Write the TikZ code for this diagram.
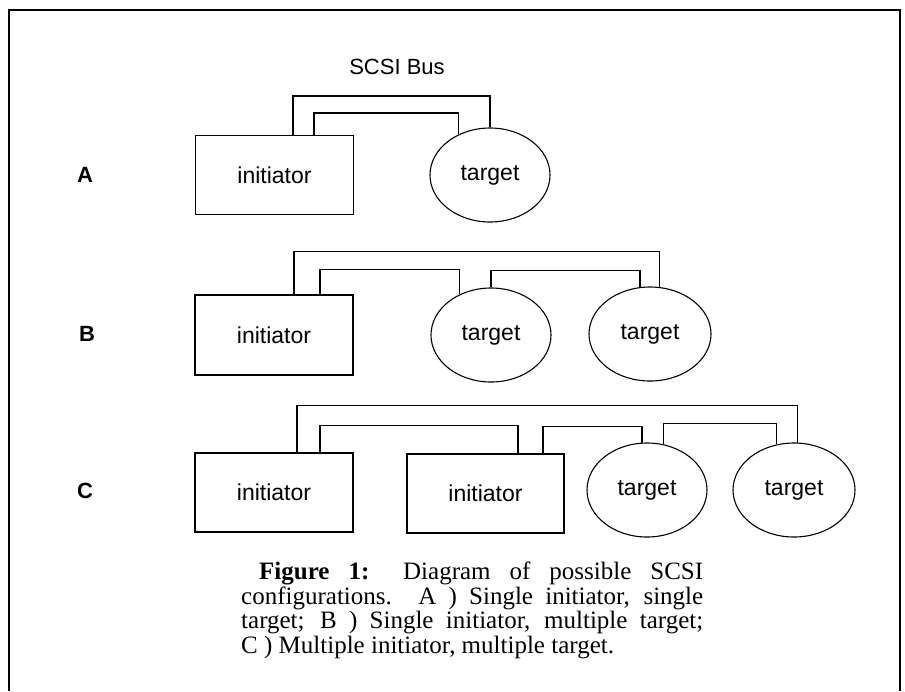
\documentclass[tikz,border=0pt]{standalone}
\usepackage{fontspec}
\setmainfont{Liberation Serif}
\setsansfont{Liberation Sans}
\usepackage{tikz}
\usetikzlibrary{shapes.geometric}

\tikzset{
  init/.style={draw, line width=1.1pt, minimum width=158, minimum height=79, inner sep=0pt, font=\sffamily\fontsize{23}{27}\selectfont},
  targ/.style={ellipse, draw, line width=1.1pt, minimum width=120, minimum height=94, inner sep=0pt, font=\sffamily\fontsize{23}{27}\selectfont},
  bus/.style={line width=1.2pt},
  rowlab/.style={font=\sffamily\bfseries\fontsize{22}{26}\selectfont}
}

\begin{document}
\begin{tikzpicture}[x=1pt, y=-1pt]
  \useasboundingbox (0,0) rectangle (905,691);
  \draw[line width=2pt] (9,691) -- (9,10) -- (900,10) -- (900,691);

  \node[font=\sffamily\fontsize{22}{26}\selectfont] (busname) at (397,67) {SCSI Bus};

  \node[rowlab] (labA) at (85,175) {A};
  \node[init] (iA) at (274.5,175) {initiator};
  \node[targ] (tA) at (490,175) {target};
  \draw[bus] ([xshift=18.5]iA.north) -- ++(0,-39) -| (tA.north);
  \draw[bus] ([xshift=39.5]iA.north) -- ++(0,-22) -| (tA.128);

  \node[rowlab] (labB) at (87,334) {B};
  \node[init, minimum height=80] (iB) at (274,335) {initiator};
  \node[targ] (tB1) at (491,335) {target};
  \node[targ, minimum width=122] (tB2) at (650,334) {target};
  \draw[bus] ([xshift=20]iB.north) -- ++(0,-43) -| (tB2.79);
  \draw[bus] ([xshift=46]iB.north) -- ++(0,-25) -| (tB1.128);
  \draw[bus] (tB1.north) -- ++(0,-17) -| (tB2.102);

  \node[rowlab] (labC) at (85,491) {C};
  \node[init] (iC1) at (274,492.5) {initiator};
  \node[init, minimum width=157] (iC2) at (485.5,493.5) {initiator};
  \node[targ] (tC1) at (647,490) {target};
  \node[targ, minimum width=122] (tC2) at (794,490) {target};
  \draw[bus] ([xshift=23]iC1.north) -- ++(0,-47) -| (tC2.86);
  \draw[bus] ([xshift=46]iC1.north) -- ++(0,-27) -| ([xshift=32.5]iC2.north);
  \draw[bus] ([xshift=57.5]iC2.north) -- ++(0,-27) -| (tC1.96);
  \draw[bus] (tC1.70) -- ++(0,-21) -| (tC2.111);

  \node[anchor=north west, text width=462pt, align=justify, inner sep=0pt, font=\fontsize{25}{24.5}\selectfont] (caption) at (241,562)
    {\lineskiplimit=-20pt\hspace*{18pt}\textbf{Figure 1:} Diagram of possible SCSI\linebreak configurations. A ) Single initiator, single\linebreak target; B ) Single initiator, multiple target;\linebreak C ) Multiple initiator, multiple target.};
\end{tikzpicture}
\end{document}
